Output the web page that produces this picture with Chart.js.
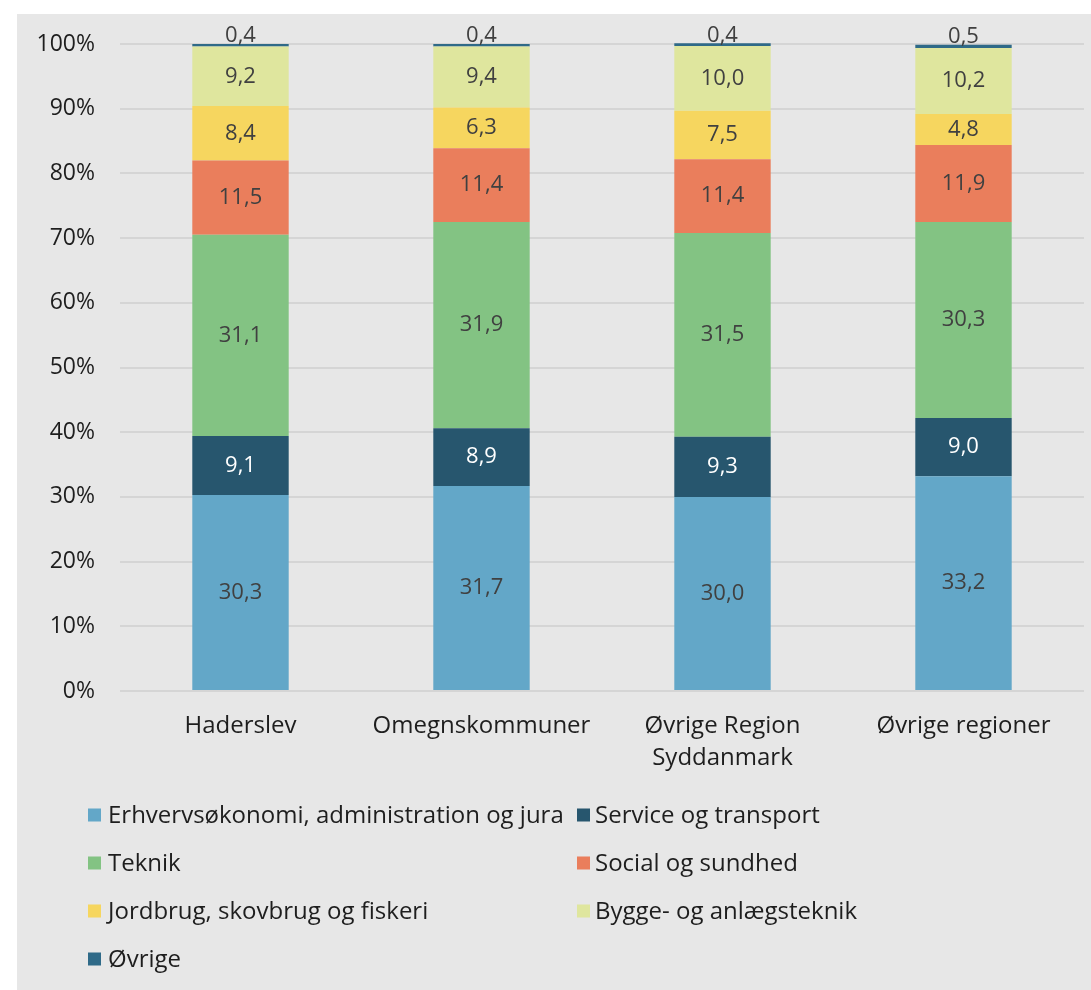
<!DOCTYPE html>
<html>
<head>
<meta charset="utf-8">
<script src="https://cdn.jsdelivr.net/npm/chart.js@4/dist/chart.umd.min.js"></script>
<style>
html,body{margin:0;padding:0;background:#ffffff;}
#wrap{position:absolute;left:17px;top:14px;width:1074px;height:976px;background:#e7e7e7;}
canvas{display:block;}
</style>
</head>
<body>
<div id="wrap"><canvas id="c" width="1074" height="976"></canvas></div>
<script>
const categories = ['Haderslev', 'Omegnskommuner', ['Øvrige Region', 'Syddanmark'], 'Øvrige regioner'];
const seriesNames = ['Erhvervsøkonomi, administration og jura', 'Service og transport', 'Teknik', 'Social og sundhed', 'Jordbrug, skovbrug og fiskeri', 'Bygge- og anlægsteknik', 'Øvrige'];
const erhverv = [30.3, 31.7, 30.0, 33.2];
const service = [9.1, 8.9, 9.3, 9.0];
const teknik = [31.1, 31.9, 31.5, 30.3];
const social = [11.5, 11.4, 11.4, 11.9];
const jordbrug = [8.4, 6.3, 7.5, 4.8];
const bygge = [9.2, 9.4, 10.0, 10.2];
const oevrige = [0.4, 0.4, 0.4, 0.5];
const yTicks = [0, 10, 20, 30, 40, 50, 60, 70, 80, 90, 100];

const colors = ['#63a7c8', '#27566e', '#83c383', '#ea7e5c', '#f6d65f', '#dfe69e', '#2f6a88'];
const labelColors = ['#404040', '#ffffff', '#404040', '#404040', '#404040', '#404040', '#404040'];
const values = [erhverv, service, teknik, social, jordbrug, bygge, oevrige];
const FONT = "'Open Sans', 'Noto Sans', sans-serif";

const datasets = values.map((v, i) => ({
  label: seriesNames[i],
  data: v,
  backgroundColor: colors[i],
  borderWidth: 0,
  categoryPercentage: 1.0,
  barPercentage: 0.4,
  clip: false
}));

const labelPlugin = {
  id: 'segLabels',
  afterDatasetsDraw(chart) {
    const ctx = chart.ctx;
    ctx.save();
    ctx.font = '22px ' + FONT;
    ctx.textAlign = 'center';
    ctx.textBaseline = 'middle';
    chart.data.datasets.forEach((ds, di) => {
      const meta = chart.getDatasetMeta(di);
      meta.data.forEach((bar, j) => {
        const v = ds.data[j];
        const txt = v.toFixed(1).replace('.', ',');
        let y = (bar.y + bar.base) / 2;
        if (Math.abs(bar.base - bar.y) < 10) y = bar.y - 8;
        ctx.fillStyle = labelColors[di];
        ctx.fillText(txt, bar.x, y);
      });
    });
    ctx.restore();
  }
};

const legendPlugin = {
  id: 'gridLegend',
  afterDraw(chart) {
    const ctx = chart.ctx;
    ctx.save();
    ctx.font = '24px ' + FONT;
    ctx.textBaseline = 'middle';
    ctx.textAlign = 'left';
    const colX = [71, 560];
    const textOff = [20, 18];
    const rowY0 = 801, rowH = 48;
    chart.data.datasets.forEach((ds, i) => {
      const col = i % 2, row = Math.floor(i / 2);
      const x = colX[col], y = rowY0 + row * rowH;
      ctx.fillStyle = ds.backgroundColor;
      ctx.fillRect(x, y - 6.5, 13, 13);
      ctx.fillStyle = '#1e1e1e';
      ctx.fillText(ds.label, x + textOff[col], y + 1);
    });
    ctx.restore();
  }
};

new Chart(document.getElementById('c'), {
  type: 'bar',
  data: { labels: categories, datasets: datasets },
  options: {
    responsive: false,
    animation: false,
    devicePixelRatio: 1,
    layout: { padding: { top: 30, right: 7, bottom: 0, left: 0 } },
    plugins: { legend: { display: false }, tooltip: { enabled: false }, title: { display: false } },
    scales: {
      x: {
        stacked: true,
        grid: { display: false, drawTicks: false },
        border: { display: false },
        ticks: { color: '#1e1e1e', font: { family: FONT, size: 24, lineHeight: 1.3 }, padding: 20, maxRotation: 0, autoSkip: false },
        afterFit(scale) { scale.height = 299; scale.paddingTop = 0; scale.paddingBottom = 0; }
      },
      y: {
        stacked: true,
        min: 0, max: 100,
        afterBuildTicks(scale) { scale.ticks = yTicks.map(v => ({ value: v })); },
        grid: { color: '#d5d5d5', lineWidth: 2, drawTicks: false },
        border: { display: false },
        ticks: { color: '#1e1e1e', font: { family: FONT, size: 23 }, padding: 25, callback: v => v + '%' },
        afterFit(scale) { scale.width = 103; scale.paddingTop = 0; scale.paddingBottom = 0; }
      }
    }
  },
  plugins: [labelPlugin, legendPlugin]
});
</script>
</body>
</html>
